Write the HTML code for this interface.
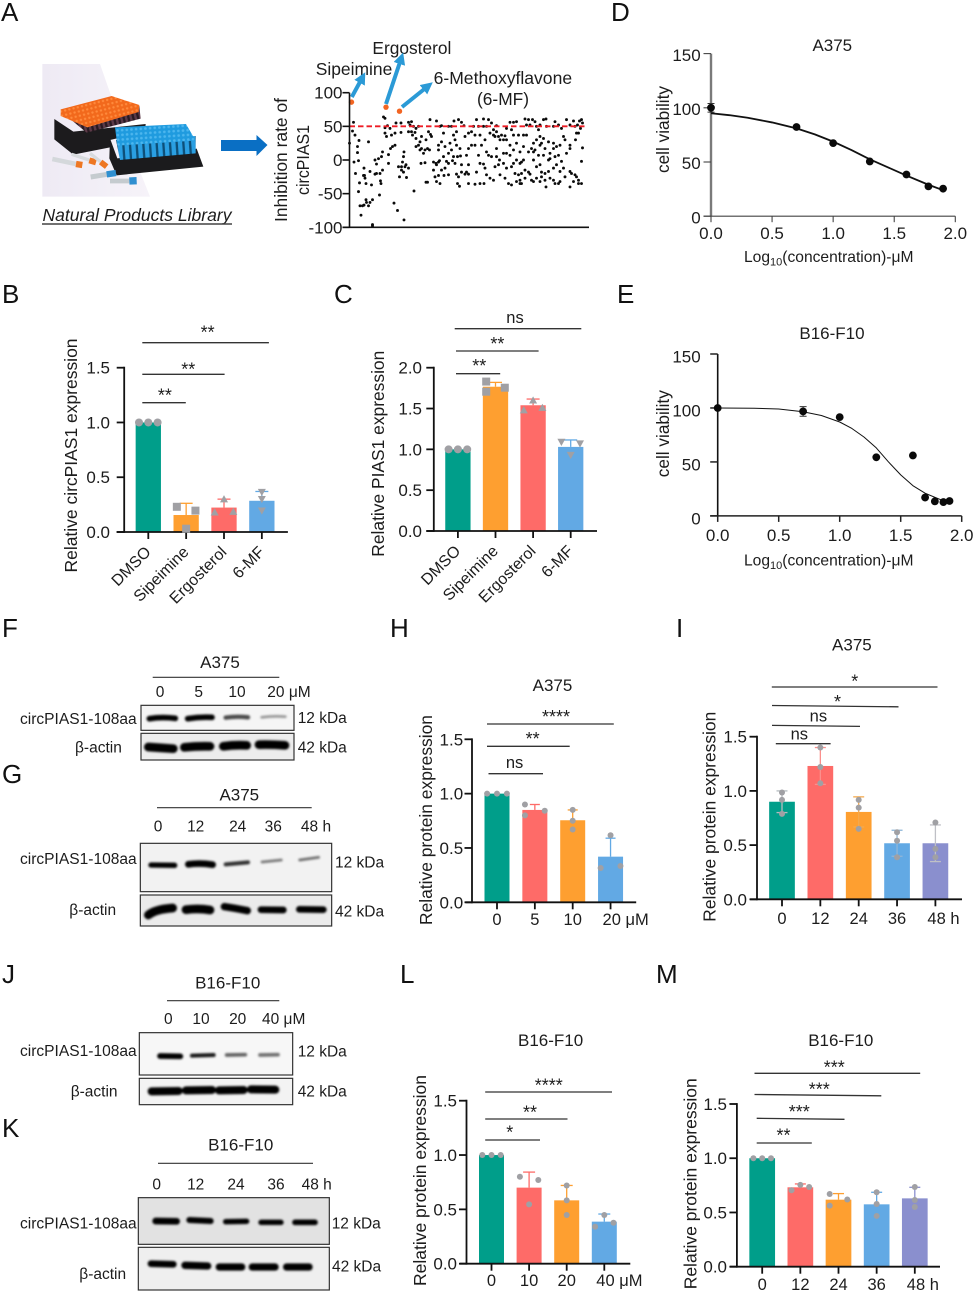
<!DOCTYPE html>
<html lang="en">
<head>
<meta charset="utf-8">
<title>Natural products screening figure</title>
<style>
html,body{margin:0;padding:0;background:#fff;}
svg{display:block;font-family:"Liberation Sans",Arial,sans-serif;fill:#1c1c1c;}
.lt{font-size:26px;fill:#111;}
.bl{font-size:15.5px;}
.ti{font-size:17px;text-anchor:middle;}
.yt{font-size:17.5px;text-anchor:middle;}
.st{font-size:18px;text-anchor:middle;}
.ns{font-size:16.5px;text-anchor:middle;}
.sig{stroke:#333;stroke-width:1.3;}
.ln{stroke:#333;stroke-width:1.2;}
.box{stroke:#333;stroke-width:3.6;}
.bands path{stroke:#060606;fill:none;stroke-linecap:round;}
</style>
</head>
<body>
<svg id="fig" xmlns="http://www.w3.org/2000/svg" width="976" height="1292" viewBox="0 0 976 1292">
<defs>
<filter id="blur" x="-20%" y="-150%" width="140%" height="400%"><feGaussianBlur stdDeviation="2.8"/></filter>
<marker id="ah" markerWidth="3" markerHeight="3" refX="0.5" refY="1.5" orient="auto"><path d="M0 0L3 1.5L0 3Z" fill="#2b9ad6"/></marker>
<pattern id="capO" width="13" height="13" patternUnits="userSpaceOnUse" patternTransform="rotate(-14)"><rect width="13" height="13" fill="#f2691c"/><circle cx="6.5" cy="6.5" r="3.6" fill="#ff8a3c"/></pattern>
<pattern id="capB" width="14" height="14" patternUnits="userSpaceOnUse" patternTransform="rotate(-4)"><rect width="14" height="14" fill="#1f9bdf"/><circle cx="7" cy="7" r="4" fill="#4cb6ee"/></pattern>
<pattern id="tubeB" width="20" height="40" patternUnits="userSpaceOnUse" patternTransform="rotate(-4)"><rect width="20" height="40" fill="#0d4f78"/><rect x="3" width="13" height="40" fill="#2a9fe2"/></pattern>
<pattern id="tubeO" width="14" height="40" patternUnits="userSpaceOnUse" patternTransform="rotate(-14)"><rect width="14" height="40" fill="#2a1a22"/><rect x="3" width="7" height="40" fill="#5c3a48"/></pattern>
<linearGradient id="lav" x1="0" x2="1" y1="0" y2="0"><stop offset="0" stop-color="#eeeaf4"/><stop offset="1" stop-color="#f6f3f9"/></linearGradient>
</defs>

<g>
<text class="lt" x="1" y="21">A</text>
<text class="lt" x="2" y="303">B</text>
<text class="lt" x="334" y="303">C</text>
<text class="lt" x="611" y="21">D</text>
<text class="lt" x="617" y="303">E</text>
<text class="lt" x="2" y="637">F</text>
<text class="lt" x="2" y="783">G</text>
<text class="lt" x="390" y="637">H</text>
<text class="lt" x="676" y="637">I</text>
<text class="lt" x="2" y="983">J</text>
<text class="lt" x="2" y="1137">K</text>
<text class="lt" x="400" y="983">L</text>
<text class="lt" x="656" y="983">M</text>
</g>

<g transform="translate(30 50) scale(.33333)">
<polygon points="37,42 210,42 265,200 360,440 37,440" fill="url(#lav)"/>
<polygon points="73,207 130,245 347,222 345,245 240,270 240,292 130,314 73,268" fill="#1c1b1d"/>
<polygon points="100,190 170,248 332,206 328,168 170,212" fill="url(#tubeO)"/>
<polygon points="92,178 245,138 328,165 326,186 172,232 92,198" fill="url(#capO)"/>
<polygon points="240,265 262,325 500,296 520,350 260,376 238,325" fill="#1b1b1d"/>
<polygon points="258,270 497,258 497,310 270,330" fill="url(#tubeB)"/>
<polygon points="255,232 468,222 497,272 262,287" fill="url(#capB)"/>
<g fill="none" stroke-linecap="butt">
<path d="M67 327L138 342" stroke="#d4d8db" stroke-width="14"/><path d="M138 342L157 345" stroke="#ee7722" stroke-width="19"/>
<path d="M125 313L180 331" stroke="#d8dbde" stroke-width="10"/><path d="M178 331L198 337" stroke="#ee7722" stroke-width="18"/>
<path d="M180 310L215 338" stroke="#d8dbde" stroke-width="10"/><path d="M212 336L230 350" stroke="#ee7722" stroke-width="17"/>
<path d="M182 381L232 373" stroke="#c5cbcf" stroke-width="15"/><path d="M230 373L258 369" stroke="#2f8fd0" stroke-width="19"/>
<path d="M240 393L298 393" stroke="#c5cbcf" stroke-width="14"/><path d="M298 393L320 392" stroke="#2f8fd0" stroke-width="22"/>
</g>
</g>
<text x="42.5" y="221" font-size="17.5" font-style="italic" textLength="189" lengthAdjust="spacingAndGlyphs">Natural Products Library</text>
<line x1="42" y1="224" x2="232" y2="224" stroke="#444" stroke-width="1.4"/>
<polygon points="221,140 256.5,140 256.5,135 267.5,145 256.5,156 256.5,151 221,151" fill="#0a6fc4"/>

<g>
<text x="372.4" y="54" font-size="17.5" textLength="79" lengthAdjust="spacingAndGlyphs">Ergosterol</text>
<text x="315.7" y="75" font-size="17.5" textLength="76.6" lengthAdjust="spacingAndGlyphs">Sipeimine</text>
<text x="433.6" y="84" font-size="17.5" textLength="138.5" lengthAdjust="spacingAndGlyphs">6-Methoxyflavone</text>
<text x="477" y="105" font-size="17.5" textLength="52" lengthAdjust="spacingAndGlyphs">(6-MF)</text>
<line x1="351.8" y1="97" x2="360.5" y2="81" stroke="#2b9ad6" stroke-width="4" marker-end="url(#ah)"/>
<line x1="386" y1="104" x2="400" y2="62" stroke="#2b9ad6" stroke-width="4" marker-end="url(#ah)"/>
<line x1="402" y1="107" x2="425" y2="88.5" stroke="#2b9ad6" stroke-width="4" marker-end="url(#ah)"/>
<text class="yt" transform="translate(287 160) rotate(-90)" textLength="124" lengthAdjust="spacingAndGlyphs">Inhibition rate of</text>
<text class="yt" transform="translate(309 160) rotate(-90)" textLength="70" lengthAdjust="spacingAndGlyphs">circPIAS1</text>
</g>
<g id="panel-a-chart"></g>

<g id="panel-b">
<text class="yt" transform="translate(77 455.5) rotate(-90)" textLength="234" lengthAdjust="spacingAndGlyphs">Relative circPIAS1 expression</text>
<line class="sig" x1="142.3" y1="342.7" x2="268.9" y2="342.7"/><text class="st" x="207.6" y="338.7">**</text>
<line class="sig" x1="142.3" y1="374.3" x2="224.6" y2="374.3"/><text class="st" x="188.2" y="375.3">**</text>
<line class="sig" x1="142.3" y1="402.7" x2="185.8" y2="402.7"/><text class="st" x="164.9" y="401.3">**</text>
</g>
<g id="panel-c">
<text class="yt" transform="translate(384 453.7) rotate(-90)" textLength="206" lengthAdjust="spacingAndGlyphs">Relative PIAS1 expression</text>
<line class="sig" x1="454.7" y1="328.7" x2="581.3" y2="328.7"/><text class="ns" x="515" y="323">ns</text>
<line class="sig" x1="456" y1="351" x2="538.6" y2="351"/><text class="st" x="497.4" y="350">**</text>
<line class="sig" x1="456" y1="373.7" x2="500.2" y2="373.7"/><text class="st" x="479.2" y="372">**</text>
</g>

<g id="panel-d">
<text class="ti" x="832.3" y="51" font-size="16">A375</text>
<text class="yt" transform="translate(669 129.5) rotate(-90)" textLength="87" lengthAdjust="spacingAndGlyphs">cell viability</text>
<text x="744" y="262" font-size="15.6">Log<tspan dy="3.5" font-size="11">10</tspan><tspan dy="-3.5">(concentration)-μM</tspan></text>
</g>
<g id="panel-e">
<text class="ti" x="832" y="339" font-size="16">B16-F10</text>
<text class="yt" transform="translate(669 433.7) rotate(-90)" textLength="87" lengthAdjust="spacingAndGlyphs">cell viability</text>
<text x="744" y="565.6" font-size="15.6">Log<tspan dy="3.5" font-size="11">10</tspan><tspan dy="-3.5">(concentration)-μM</tspan></text>
</g>

<!-- Panel F -->
<g>
<text class="ti" x="220" y="668">A375</text>
<line class="ln" x1="152.7" y1="677.3" x2="279.3" y2="677.3"/>
<g class="bl" text-anchor="middle">
<text x="160" y="697">0</text><text x="198.7" y="697">5</text><text x="237" y="697">10</text><text x="289" y="697">20 μM</text>
</g>
<text class="bl" x="20" y="724" textLength="116.7" lengthAdjust="spacingAndGlyphs">circPIAS1-108aa</text>
<text class="bl" x="75" y="752.3">β-actin</text>
<text class="bl" x="297.7" y="723">12 kDa</text>
<text class="bl" x="297.7" y="752.3">42 kDa</text>
<g transform="translate(0 620) scale(.33333)">
<rect class="box" x="423" y="256" width="459" height="75" fill="#f5f5f5"/>
<rect class="box" x="423" y="340" width="459" height="80" fill="#ededed"/>
<g class="bands" filter="url(#blur)">
<path d="M448 296Q485 290 526 295" stroke-width="17"/>
<path d="M563 296Q600 290 636 292" stroke-width="17"/>
<path d="M677 293Q710 288 744 292" stroke-width="13" opacity=".7"/>
<path d="M785 292Q820 287 856 290" stroke-width="8" opacity=".4"/>
<path d="M445 381Q485 384 520 386" stroke-width="26"/>
<path d="M553 382Q590 378 630 379" stroke-width="26"/>
<path d="M670 379Q705 374 740 376" stroke-width="26"/>
<path d="M777 374Q815 373 855 376" stroke-width="26"/>
</g>
</g>
</g>

<!-- Panel G -->
<g>
<text class="ti" x="239.3" y="800.7">A375</text>
<line class="ln" x1="157" y1="807.7" x2="311.7" y2="807.7"/>
<g class="bl" text-anchor="middle">
<text x="158" y="831.7">0</text><text x="195.7" y="831.7">12</text><text x="237.7" y="831.7">24</text><text x="273.3" y="831.7">36</text><text x="316" y="831.7">48 h</text>
</g>
<text class="bl" x="20" y="864" textLength="116.7" lengthAdjust="spacingAndGlyphs">circPIAS1-108aa</text>
<text class="bl" x="69.3" y="915">β-actin</text>
<text class="bl" x="335" y="867.3">12 kDa</text>
<text class="bl" x="335" y="916.7">42 kDa</text>
<g transform="translate(0 620) scale(.33333)">
<rect class="box" x="421" y="670" width="574" height="145" fill="#f2f2f2"/>
<rect class="box" x="421" y="825" width="574" height="93" fill="#ebebeb"/>
<g class="bands" filter="url(#blur)">
<path d="M453 735L524 736" stroke-width="16"/>
<path d="M565 733Q600 728 638 734" stroke-width="20"/>
<path d="M677 733L744 727" stroke-width="12" opacity=".8"/>
<path d="M786 726L844 720" stroke-width="8" opacity=".5"/>
<path d="M899 720L956 712" stroke-width="8" opacity=".55"/>
<path d="M445 885Q465 868 518 864" stroke-width="26"/>
<path d="M558 869Q595 864 630 870" stroke-width="26"/>
<path d="M673 860Q700 864 742 872" stroke-width="22"/>
<path d="M783 869L850 870" stroke-width="20"/>
<path d="M898 868L970 869" stroke-width="20"/>
</g>
</g>
</g>

<!-- Panel J -->
<g>
<text class="ti" x="227.7" y="988.3">B16-F10</text>
<line class="ln" x1="167" y1="1000.7" x2="279.3" y2="1000.7"/>
<g class="bl" text-anchor="middle">
<text x="168.3" y="1024">0</text><text x="201" y="1024">10</text><text x="237.7" y="1024">20</text><text x="283.7" y="1024">40 μM</text>
</g>
<text class="bl" x="20" y="1056" textLength="116.7" lengthAdjust="spacingAndGlyphs">circPIAS1-108aa</text>
<text class="bl" x="70.7" y="1096.7">β-actin</text>
<text class="bl" x="297.7" y="1056.7">12 kDa</text>
<text class="bl" x="297.7" y="1096.7">42 kDa</text>
<g transform="translate(0 960) scale(.33333)">
<rect class="box" x="418" y="218" width="460" height="127" fill="#f7f7f7"/>
<rect class="box" x="418" y="355" width="460" height="79" fill="#f3f3f3"/>
<g class="bands" filter="url(#blur)">
<path d="M480 288L541 289" stroke-width="17"/>
<path d="M576 287L641 285" stroke-width="12" opacity=".9"/>
<path d="M680 285L736 284" stroke-width="11" opacity=".6"/>
<path d="M780 285L834 284" stroke-width="11" opacity=".55"/>
<path d="M455 394L536 393" stroke-width="24"/>
<path d="M558 391L636 390" stroke-width="24"/>
<path d="M657 391L731 390" stroke-width="24"/>
<path d="M753 388L826 389" stroke-width="24"/>
</g>
</g>
</g>

<!-- Panel K -->
<g>
<text class="ti" x="240.7" y="1150.7">B16-F10</text>
<line class="ln" x1="158" y1="1163.3" x2="313" y2="1163.3"/>
<g class="bl" text-anchor="middle">
<text x="156.7" y="1189.3">0</text><text x="195.7" y="1189.3">12</text><text x="236" y="1189.3">24</text><text x="276" y="1189.3">36</text><text x="316.7" y="1189.3">48 h</text>
</g>
<text class="bl" x="20" y="1228.3" textLength="116.7" lengthAdjust="spacingAndGlyphs">circPIAS1-108aa</text>
<text class="bl" x="79.3" y="1279">β-actin</text>
<text class="bl" x="331.7" y="1228.3">12 kDa</text>
<text class="bl" x="332" y="1271.7">42 kDa</text>
<g transform="translate(0 960) scale(.33333)">
<rect class="box" x="415" y="713" width="573" height="140" fill="#e2e2e2"/>
<rect class="box" x="415" y="862" width="573" height="128" fill="#efefef"/>
<g class="bands" filter="url(#blur)">
<path d="M467 783L530 784" stroke-width="20"/>
<path d="M568 780L632 783" stroke-width="18"/>
<path d="M677 785L740 784" stroke-width="16"/>
<path d="M783 787L843 787" stroke-width="16"/>
<path d="M885 787L945 787" stroke-width="17"/>
<path d="M453 911L520 913" stroke-width="20"/>
<path d="M555 916L623 918" stroke-width="22"/>
<path d="M658 921L725 921" stroke-width="22"/>
<path d="M757 921L825 921" stroke-width="22"/>
<path d="M860 921L927 921" stroke-width="22"/>
</g>
</g>
</g>

<g id="panel-h">
<text class="ti" x="552.5" y="691">A375</text>
<text class="yt" transform="translate(432 820) rotate(-90)" textLength="210" lengthAdjust="spacingAndGlyphs">Relative protein expression</text>
<line class="sig" x1="487" y1="724" x2="613.8" y2="724"/><text class="st" x="556" y="723">****</text>
<line class="sig" x1="487" y1="746.3" x2="569.7" y2="746.3"/><text class="st" x="532.6" y="745">**</text>
<line class="sig" x1="488.5" y1="773.7" x2="543" y2="773.7"/><text class="ns" x="514.6" y="768">ns</text>
</g>
<g id="panel-i">
<text class="ti" x="851.9" y="650.7">A375</text>
<text class="yt" transform="translate(715.5 816.7) rotate(-90)" textLength="210" lengthAdjust="spacingAndGlyphs">Relative protein expression</text>
<line class="sig" x1="771.8" y1="687" x2="937.5" y2="687"/><text class="st" x="854.8" y="687.3">*</text>
<line class="sig" x1="772" y1="705.5" x2="898.5" y2="706.8"/><text class="st" x="837.5" y="708">*</text>
<line class="sig" x1="772" y1="725.4" x2="860" y2="726.4"/><text class="ns" x="818.4" y="721.7">ns</text>
<line class="sig" x1="775.8" y1="743.7" x2="830.6" y2="743.7"/><text class="ns" x="799.3" y="739.3">ns</text>
</g>
<g id="panel-l">
<text class="ti" x="550.6" y="1046">B16-F10</text>
<text class="yt" transform="translate(426 1180.5) rotate(-90)" textLength="211" lengthAdjust="spacingAndGlyphs">Relative protein expression</text>
<line class="sig" x1="485.2" y1="1092" x2="612" y2="1092"/><text class="st" x="548.8" y="1091.3">****</text>
<line class="sig" x1="485.2" y1="1119" x2="567.5" y2="1119"/><text class="st" x="530" y="1118.7">**</text>
<line class="sig" x1="485.2" y1="1140" x2="540" y2="1140"/><text class="st" x="509.8" y="1138.7">*</text>
</g>
<g id="panel-m">
<text class="ti" x="840.8" y="1046">B16-F10</text>
<text class="yt" transform="translate(696.5 1183.8) rotate(-90)" textLength="211" lengthAdjust="spacingAndGlyphs">Relative protein expression</text>
<line class="sig" x1="754.5" y1="1073.3" x2="920.2" y2="1073.3"/><text class="st" x="834.2" y="1073.3">***</text>
<line class="sig" x1="754.5" y1="1094.5" x2="881.3" y2="1095.8"/><text class="st" x="819.2" y="1095.3">***</text>
<line class="sig" x1="756.7" y1="1118.3" x2="844.5" y2="1119.3"/><text class="st" x="799.3" y="1118">***</text>
<line class="sig" x1="756.7" y1="1143" x2="811.8" y2="1143"/><text class="st" x="783.5" y="1141.3">**</text>
</g>
</svg>

<script>
/* ---------- Panel A: inhibition screen ---------- */
const aTicks = [100, 50, 0, -50, -100];
const aThreshold = 50;
const aHitCompounds = [2, 36.5, 50];
const aHitInhibition = [86, 78.5, 72.5];
const aCompounds = [4,0,3,5.5,9.5,8,8,4.5,9,6,10,9,19,14.5,14,15.5,15,16.5,10.5,13,14.5,16.5,17,19,20.5,23,11.5,20.5,22,25.5,27,30.5,25.5,27,29,33,32,33,31,31.5,30,23,23,34,35.5,35.5,35.5,37,40.5,38,46.5,42,45.5,51.5,51.5,45.5,43,41,39,39,54.5,54,53,49,52,55.5,52,50,54,56.5,59,57,44.5,48,54.5,64.5,59,62,60.5,64,66.5,59,62,65.5,69,63,66.5,66.5,69,72,70.5,74,78,80,75.5,71.5,75.5,76.5,78,79,81,82,80.5,87,84,86.5,89,87,90,89,89,84,89,85.5,87,90.5,92,95.5,99,102,105.5,100.5,92,90.5,99,102,104.5,109,112,114.5,94.5,99,99,103,105.5,108,111,107,109,108,110,112,119,122,125.5,117,119,117,119,112,115.5,119,125.5,130.5,134.5,129,125.5,122,129,127,134,139,134,142,147,140.5,144,145.5,149,152,155.5,157,154,137,139,130.5,134,135.5,127,137,140.5,145.5,150,154,157,154,149,144,150.5,155.5,159,162,167,170.5,172,164,169,174,164,167,160.5,175.5,179,183,185.5,180.5,194,196.5,197,187,190.5,189,194,184,192,185.5,189,194,199,204,207,204,210.5,209,214,215.5,212,217,224,229,220.5,217,220.5,199,195.5,192,192,195.5,196.5,200.5,204,209,210.5,220.5,222,225.5,227,229,229,220.5,224,174,170.5,172,164,160.5,179,182,184,175.5,179,180.5,187,184,199,200.5,167,174,177,182,184,170.5,228,230,232,233,231,232,232,227,226,233,107,110.5,104,97,94,115.5,119,124,137,144,150.5,147,142,147,157,162,167,165.5,169,172,175.5,160.5,164,170.5,187,190.5,195.5,200.5,205.5,212,207,204,214,215.5,210.5,205.5,190.5,187,190.5,177,190.5,204,209,220.5,205.5,225.5,135.5,132,130.5,147,157,162,92,95.5,104,107,94,72,76.5,70.5];
const aInhibition = [56,25,43,37,29,20,11,-3,-1,-20,-34,-47,27,-12,-23,-27,-23,-35,-68,-68,-67,-59,-63,-68,-63,-59,-82,-17,-37,-21,-20,-20,0,-6,2,12,5,-15,-31,-35,-52,-96,-98,64,62,48,40,35,47,51,55,37,40,55,41,22,20,17,8,-5,12,5,-3,-10,-10,-10,-15,-25,-18,-7,-12,-26,-64,-75,-89,-46,56,57,52,50,47,42,42,41,50,37,32,20,22,17,15,10,17,15,15,-5,-4,-33,-33,42,38,35,60,58,-3,-5,-3,-7,-1,22,15,-15,-23,-25,-32,-35,-15,-12,10,15,30,25,51,50,50,50,58,60,56,51,-23,-22,-5,-1,-5,5,6,-21,-25,-35,-39,-7,17,22,22,7,-7,-18,-21,-18,-21,-35,-36,-35,-35,7,37,42,50,60,61,60,50,55,51,40,37,35,35,37,36,30,30,12,7,-5,-6,-12,-18,-22,-27,-10,0,10,10,-5,-7,-30,-22,-27,-35,-37,-32,-35,-35,37,37,37,56,57,56,61,60,60,57,52,60,61,50,50,35,45,32,25,25,15,7,7,27,25,20,17,22,7,35,30,47,60,58,40,17,10,22,-17,-20,-18,-25,-30,-40,-27,-30,-35,-17,-17,-20,-22,-25,-30,-35,-40,-32,0,-5,-3,-5,7,12,17,12,-15,-18,-21,-10,0,0,2,25,20,37,-30,-32,-30,52,58,60,55,47,-2,-35,40,30,18,22,17,5,-2,5,35,40,50,50,45,30,17,5,5,-12,-10,0,-20,-22,-20,-27,22,15,12,30,22,17,10,5,-2,-7,-12,-12,-25,-32,-35,-7,-27,-32,52,52,50,52,52,57,50,30,22,37,42,47,45,27,20,37,42,40,35,30,27];

/* ---------- Panel B ---------- */
const bCategories = ['DMSO', 'Sipeimine', 'Ergosterol', '6-MF'];
const bMeans = [1.0, 0.155, 0.223, 0.285];
const bErrors = [0, 0.107, 0.077, 0.085];
const bSamples = [[1, 1, 1], [0.23, 0.195, 0.03], [0.30, 0.18, 0.186], [0.365, 0.30, 0.195]];
const bTicks = [0, 0.5, 1.0, 1.5];

/* ---------- Panel C ---------- */
const cCategories = ['DMSO', 'Sipeimine', 'Ergosterol', '6-MF'];
const cMeans = [1.0, 1.767, 1.54, 1.03];
const cErrors = [0, 0.053, 0.076, 0.085];
const cSamples = [[1, 1, 1], [1.83, 1.706, 1.755], [1.60, 1.48, 1.51], [1.09, 1.07, 0.93]];
const cTicks = [0, 0.5, 1.0, 1.5, 2.0];

/* ---------- Panel D ---------- */
const dLogConc = [0, 0.7, 1.0, 1.3, 1.6, 1.78, 1.9];
const dViability = [100, 82.3, 67.4, 50.5, 38.5, 27.5, 25.4];
const dViabilityError = [4, 0, 0, 0, 0, 0, 0];
const dFitLogConc = [0, 0.15, 0.3, 0.5, 0.7, 0.85, 1.0, 1.15, 1.3, 1.45, 1.6, 1.78, 1.9];
const dFitViability = [95, 93.2, 90.8, 86.5, 81, 75.5, 68.8, 61, 52.5, 45, 37.5, 29, 24];
const dXTicks = [0, 0.5, 1.0, 1.5, 2.0];
const dYTicks = [0, 50, 100, 150];

/* ---------- Panel E ---------- */
const eLogConc = [0, 0.7, 1.0, 1.3, 1.6, 1.7, 1.78, 1.85, 1.9];
const eViability = [100, 96.8, 91.5, 54.3, 56, 17, 13.5, 12.8, 13.8];
const eViabilityError = [0, 4.5, 0, 0, 0, 0, 0, 0, 0];
const eFitLogConc = [0, 0.3, 0.5, 0.7, 0.85, 1.0, 1.1, 1.2, 1.3, 1.4, 1.5, 1.6, 1.7, 1.85];
const eFitViability = [100, 99.7, 99, 96.5, 93, 87, 81, 73, 63, 50, 38, 28, 21, 14];
const eXTicks = [0, 0.5, 1.0, 1.5, 2.0];
const eYTicks = [0, 50, 100, 150];

/* ---------- Panel H ---------- */
const hCategories = ['0', '5', '10', '20 μM'];
const hMeans = [1.0, 0.85, 0.755, 0.42];
const hErrors = [0, 0.05, 0.095, 0.17];
const hSamples = [[1, 1, 1], [0.90, 0.843, 0.80], [0.85, 0.75, 0.67], [0.617, 0.316, 0.334]];
const hTicks = [0, 0.5, 1.0, 1.5];

/* ---------- Panel I ---------- */
const iCategories = ['0', '12', '24', '36', '48 h'];
const iMeans = [0.90, 1.23, 0.806, 0.517, 0.517];
const iErrors = [0.10, 0.17, 0.139, 0.12, 0.169];
const iSamples = [[0.985, 0.917, 0.788], [1.40, 1.22, 1.07], [0.917, 0.846, 0.65], [0.618, 0.54, 0.388], [0.708, 0.465, 0.388]];
const iTicks = [0, 0.5, 1.0, 1.5];

/* ---------- Panel L ---------- */
const lCategories = ['0', '10', '20', '40 μM'];
const lMeans = [1.0, 0.70, 0.583, 0.387];
const lErrors = [0, 0.143, 0.137, 0.07];
const lSamples = [[1, 1, 1], [0.80, 0.77, 0.546], [0.72, 0.583, 0.448], [0.448, 0.34, 0.377]];
const lTicks = [0, 0.5, 1.0, 1.5];

/* ---------- Panel M ---------- */
const mCategories = ['0', '12', '24', '36', '48 h'];
const mMeans = [1.0, 0.732, 0.618, 0.575, 0.63];
const mErrors = [0, 0.031, 0.056, 0.111, 0.102];
const mSamples = [[1, 1, 1], [0.705, 0.754, 0.735], [0.67, 0.62, 0.563], [0.686, 0.578, 0.468], [0.735, 0.615, 0.55]];
const mTicks = [0, 0.5, 1.0, 1.5];

/* ---------- Shared styling ---------- */
const TEAL = '#009e8a', CORAL = '#fe6b68', ORANGE = '#fe9f30', BLUE = '#62a9e4', PURPLE = '#8a8fce';
const DOT = '#a0a0a4';

const NS = 'http://www.w3.org/2000/svg';
function mk(tag, attrs, parent, content) {
  const e = document.createElementNS(NS, tag);
  for (const k in attrs) e.setAttribute(k, attrs[k]);
  if (content !== undefined) e.textContent = content;
  parent.appendChild(e);
  return e;
}
function linear(d0, d1, r0, r1) {
  return v => r0 + (v - d0) * (r1 - r0) / (d1 - d0);
}

/* Prism-style dodge: close replicates move to the side of the bar. */
function dodge(values, yScale, gap) {
  const idx = values.map((_, i) => i).sort((a, b) => values[b] - values[a]);
  const px = idx.map(i => yScale(values[i]));
  const g1 = px[1] - px[0], g2 = px[2] - px[1];
  const slots = [0, 0, 0];
  if (g1 + g2 < gap) { slots[idx[0]] = 0; slots[idx[1]] = 1; slots[idx[2]] = -1; }
  else if (g1 < gap && g2 < gap) { slots[idx[0]] = -1; slots[idx[1]] = 1; slots[idx[2]] = -1; }
  else if (g1 < gap) { slots[idx[0]] = -1; slots[idx[1]] = 1; }
  else if (g2 < gap) { slots[idx[1]] = 1; slots[idx[2]] = -1; }
  return slots;
}

function drawMarker(g, kind, x, y, r) {
  let m;
  if (kind === 'square') {
    m = mk('rect', { x: x - r, y: y - r, width: 2 * r, height: 2 * r, fill: DOT }, g);
  } else if (kind === 'triangle-up') {
    m = mk('polygon', { points: (x - r) + ',' + (y + r * 0.8) + ' ' + (x + r) + ',' + (y + r * 0.8) + ' ' + x + ',' + (y - r), fill: DOT }, g);
  } else if (kind === 'triangle-down') {
    m = mk('polygon', { points: (x - r) + ',' + (y - r * 0.8) + ' ' + (x + r) + ',' + (y - r * 0.8) + ' ' + x + ',' + (y + r), fill: DOT }, g);
  } else {
    m = mk('circle', { cx: x, cy: y, r: r, fill: DOT }, g);
  }
  
  
}

function drawBarChart(cfg) {
  const g = document.getElementById(cfg.id);
  const y = linear(0, cfg.yMax, cfg.y0, cfg.yTop);
  const x = i => cfg.first + i * cfg.step;
  const colors = cfg.colors;

  const yAxis = mk('line', { x1: cfg.axisX, x2: cfg.axisX, y1: cfg.yTop - 0.9, y2: cfg.y0 + 0.9, stroke: '#111', 'stroke-width': 1.8 }, g);
  
  

  cfg.ticks.forEach(t => {
    const tick = mk('line', { x1: cfg.axisX - 7.5, x2: cfg.axisX, y1: y(t), y2: y(t), stroke: '#111', 'stroke-width': 1.8 }, g);
    
    
    const label = mk('text', { x: cfg.tickRight, y: y(t) + 6, 'text-anchor': 'end', 'font-size': 17 }, g, t.toFixed(1));
    
    
  });

  cfg.means.forEach((m, i) => {
    const bar = mk('rect', { x: x(i) - cfg.barW / 2, y: y(m), width: cfg.barW, height: cfg.y0 - y(m), fill: colors[i] }, g);
    
    
  });

  const xAxis = mk('line', { x1: cfg.xStart, x2: cfg.xEnd, y1: cfg.y0, y2: cfg.y0, stroke: '#111', 'stroke-width': 1.8 }, g);
  
  

  cfg.cats.forEach((c, i) => {
    const tick = mk('line', { x1: x(i), x2: x(i), y1: cfg.y0, y2: cfg.y0 + 7, stroke: '#111', 'stroke-width': 1.8 }, g);
    
    
    let label;
    if (cfg.rotate) {
      label = mk('text', { transform: 'translate(' + (x(i) + 3.5) + ' ' + (cfg.y0 + 21) + ') rotate(-45)', 'text-anchor': 'end', 'font-size': 16 }, g, c);
    } else if (c.indexOf(' ') >= 0) {
      label = mk('text', { x: x(i) - 8, y: cfg.labelY, 'font-size': 16.5 }, g, c);
    } else {
      label = mk('text', { x: x(i), y: cfg.labelY, 'text-anchor': 'middle', 'font-size': 16.5 }, g, c);
    }
    
    
  });

  cfg.means.forEach((m, i) => {
    const e = cfg.errs[i];
    if (e > 0) {
      const col = cfg.errColors ? cfg.errColors[i] : colors[i];
      const low = cfg.errColors ? m - e : m;
      const stem = mk('line', { x1: x(i), x2: x(i), y1: y(m + e), y2: y(low), stroke: col, 'stroke-width': 1.3 }, g);
      
      
      const cap = mk('line', { x1: x(i) - cfg.capW, x2: x(i) + cfg.capW, y1: y(m + e), y2: y(m + e), stroke: col, 'stroke-width': 1.3 }, g);
      
      
      if (cfg.errColors) {
        const capLow = mk('line', { x1: x(i) - cfg.capW, x2: x(i) + cfg.capW, y1: y(m - e), y2: y(m - e), stroke: col, 'stroke-width': 1.3 }, g);
        
        
      }
    }
    const slots = dodge(cfg.samples[i], y, 6.5);
    cfg.samples[i].forEach((v, j) => {
      drawMarker(g, cfg.markers ? cfg.markers[i] : 'circle', x(i) + slots[j] * cfg.dotOffset, y(v), cfg.dotR);
    });
  });
}

function drawCurve(cfg) {
  const g = document.getElementById(cfg.id);
  const x = linear(0, 2, cfg.x0, cfg.x2);
  const y = linear(0, 150, cfg.y0, cfg.y150);

  const yAxis = mk('line', { x1: cfg.x0, x2: cfg.x0, y1: cfg.y150, y2: cfg.y0, stroke: cfg.yAxisColor, 'stroke-width': cfg.yAxisWidth }, g);
  
  
  const xAxis = mk('line', { x1: cfg.x0 - 7.5, x2: cfg.x2, y1: cfg.y0, y2: cfg.y0, stroke: cfg.xAxisColor, 'stroke-width': cfg.xAxisWidth }, g);
  
  

  cfg.yTicks.forEach(t => {
    const tick = mk('line', { x1: cfg.x0 - 7.5, x2: cfg.x0, y1: y(t), y2: y(t), stroke: cfg.xAxisColor, 'stroke-width': cfg.xAxisWidth }, g);
    
    
    const label = mk('text', { x: 700.7, y: y(t) + 6 + cfg.labelShift, 'text-anchor': 'end', 'font-size': 17 }, g, String(t));
    
    
  });
  cfg.xTicks.forEach(t => {
    const tick = mk('line', { x1: x(t), x2: x(t), y1: cfg.y0, y2: cfg.y0 + 6, stroke: cfg.xAxisColor, 'stroke-width': cfg.xAxisWidth }, g);
    
    
    const label = mk('text', { x: x(t), y: cfg.y0 + cfg.xLabelDrop, 'text-anchor': 'middle', 'font-size': 17 }, g, t.toFixed(1));
    
    
  });

  const fit = mk('polyline', {
    points: cfg.fitX.map((v, i) => x(v) + ',' + y(cfg.fitY[i])).join(' '),
    fill: 'none', stroke: '#111', 'stroke-width': cfg.fitWidth, 'stroke-linejoin': 'round'
  }, g);
  
  

  cfg.ptsX.forEach((v, i) => {
    const e = cfg.errs[i];
    if (e > 0) {
      const stem = mk('path', {
        d: 'M' + (x(v) - 3.5) + ' ' + y(cfg.ptsY[i] + e) + 'h7M' + x(v) + ' ' + y(cfg.ptsY[i] + e) + 'V' + y(cfg.ptsY[i] - e) + 'M' + (x(v) - 3.5) + ' ' + y(cfg.ptsY[i] - e) + 'h7',
        stroke: '#333', fill: 'none', 'stroke-width': 1
      }, g);
      
      
    }
    const p = mk('circle', { cx: x(v), cy: y(cfg.ptsY[i]), r: 3.9, fill: '#0a0a0a' }, g);
    
    
  });
}

function drawScatter() {
  const g = document.getElementById('panel-a-chart');
  const x0 = 349.5;
  const x = linear(0, 240, x0, x0 + 240);
  const y = linear(0, 100, 160, 92.7);

  aCompounds.forEach((c, i) => {
    const p = mk('circle', { cx: x(c), cy: y(aInhibition[i]), r: 1.45, fill: '#0a0a0a' }, g);
    
    
  });
  const th = mk('line', { x1: x0, x2: 587, y1: y(aThreshold), y2: y(aThreshold), stroke: '#ee1c25', 'stroke-width': 1.9, 'stroke-dasharray': '5.5 3' }, g);
  
  
  aHitCompounds.forEach((c, i) => {
    const p = mk('circle', { cx: x(c), cy: y(aHitInhibition[i]), r: 2.7, fill: '#f26522' }, g);
    
    
  });
  const yAxis = mk('line', { x1: x0, x2: x0, y1: y(100), y2: y(-100), stroke: '#111', 'stroke-width': 1.6 }, g);
  
  
  const xAxis = mk('line', { x1: x0 - 7, x2: 589, y1: y(-100), y2: y(-100), stroke: '#111', 'stroke-width': 1.6 }, g);
  
  
  aTicks.forEach(t => {
    const tick = mk('line', { x1: x0 - 7, x2: x0, y1: y(t), y2: y(t), stroke: '#111', 'stroke-width': 1.6 }, g);
    
    
    const label = mk('text', { x: 342.5, y: y(t) + 6, 'text-anchor': 'end', 'font-size': 17 }, g, String(t));
    
    
  });
}

drawScatter();

const fourColorB = [TEAL, ORANGE, CORAL, BLUE];
const fourColorH = [TEAL, CORAL, ORANGE, BLUE];
const fiveColor = [TEAL, CORAL, ORANGE, BLUE, PURPLE];
const treatmentMarkers = ['circle', 'square', 'triangle-up', 'triangle-down'];

drawBarChart({ id: 'panel-b', cats: bCategories, means: bMeans, errs: bErrors, samples: bSamples, ticks: bTicks, yMax: 1.5,
  axisX: 124.2, xStart: 116.6, xEnd: 287.9, y0: 532, yTop: 367.7, first: 148.3, step: 37.85, barW: 25.3, colors: fourColorB,
  markers: treatmentMarkers, dotR: 4, dotOffset: 9.3, capW: 6.5, rotate: true, tickRight: 110 });
drawBarChart({ id: 'panel-c', cats: cCategories, means: cMeans, errs: cErrors, samples: cSamples, ticks: cTicks, yMax: 2.0,
  axisX: 433.8, xStart: 426.3, xEnd: 597, y0: 531, yTop: 367.7, first: 457.9, step: 37.6, barW: 25.3, colors: fourColorB,
  markers: treatmentMarkers, dotR: 4, dotOffset: 9.3, capW: 6.5, rotate: true, tickRight: 422 });

drawCurve({ id: 'panel-d', x0: 711, x2: 955.3, y0: 216.2, y150: 53.6, xTicks: dXTicks, yTicks: dYTicks,
  ptsX: dLogConc, ptsY: dViability, errs: dViabilityError, fitX: dFitLogConc, fitY: dFitViability, labelShift: 1.2, xLabelDrop: 23,
  yAxisColor: '#7a7a7a', yAxisWidth: 2.4, xAxisColor: '#444', xAxisWidth: 1.1, fitWidth: 1.8 });
drawCurve({ id: 'panel-e', x0: 717.7, x2: 961.7, y0: 515.9, y150: 354, xTicks: eXTicks, yTicks: eYTicks,
  ptsX: eLogConc, ptsY: eViability, errs: eViabilityError, fitX: eFitLogConc, fitY: eFitViability, labelShift: 2.5, xLabelDrop: 25,
  yAxisColor: '#111', yAxisWidth: 1.6, xAxisColor: '#222', xAxisWidth: 1.5, fitWidth: 1 });

drawBarChart({ id: 'panel-h', cats: hCategories, means: hMeans, errs: hErrors, samples: hSamples, ticks: hTicks, yMax: 1.5,
  axisX: 472, xStart: 465.4, xEnd: 636.2, y0: 902.3, yTop: 739.3, first: 497, step: 37.85, barW: 25, colors: fourColorH,
  dotR: 3, dotOffset: 9.9, capW: 5, labelY: 925, tickRight: 463.2 });
drawBarChart({ id: 'panel-i', cats: iCategories, means: iMeans, errs: iErrors, samples: iSamples, ticks: iTicks, yMax: 1.5,
  axisX: 757, xStart: 750.1, xEnd: 962, y0: 899.3, yTop: 736.7, first: 782, step: 38.35, barW: 25.7, colors: fiveColor,
  errColors: ['#b5bcc0', '#fb8f8c', '#f4a94e', '#8fb6d8', '#bfc0c6'],
  dotR: 3, dotOffset: 9.5, capW: 5.5, labelY: 924, tickRight: 747 });
drawBarChart({ id: 'panel-l', cats: lCategories, means: lMeans, errs: lErrors, samples: lSamples, ticks: lTicks, yMax: 1.5,
  axisX: 466.5, xStart: 459.9, xEnd: 630.3, y0: 1263.7, yTop: 1100.7, first: 491.5, step: 37.6, barW: 25, colors: fourColorH,
  dotR: 3, dotOffset: 9.2, capW: 6, labelY: 1286, tickRight: 457 });
drawBarChart({ id: 'panel-m', cats: mCategories, means: mMeans, errs: mErrors, samples: mSamples, ticks: mTicks, yMax: 1.5,
  axisX: 736.9, xStart: 729.9, xEnd: 940, y0: 1266.7, yTop: 1104, first: 762.2, step: 38.15, barW: 25.7, colors: fiveColor,
  dotR: 3, dotOffset: 8.8, capW: 5.5, labelY: 1290, tickRight: 727 });
</script>
</body>
</html>
